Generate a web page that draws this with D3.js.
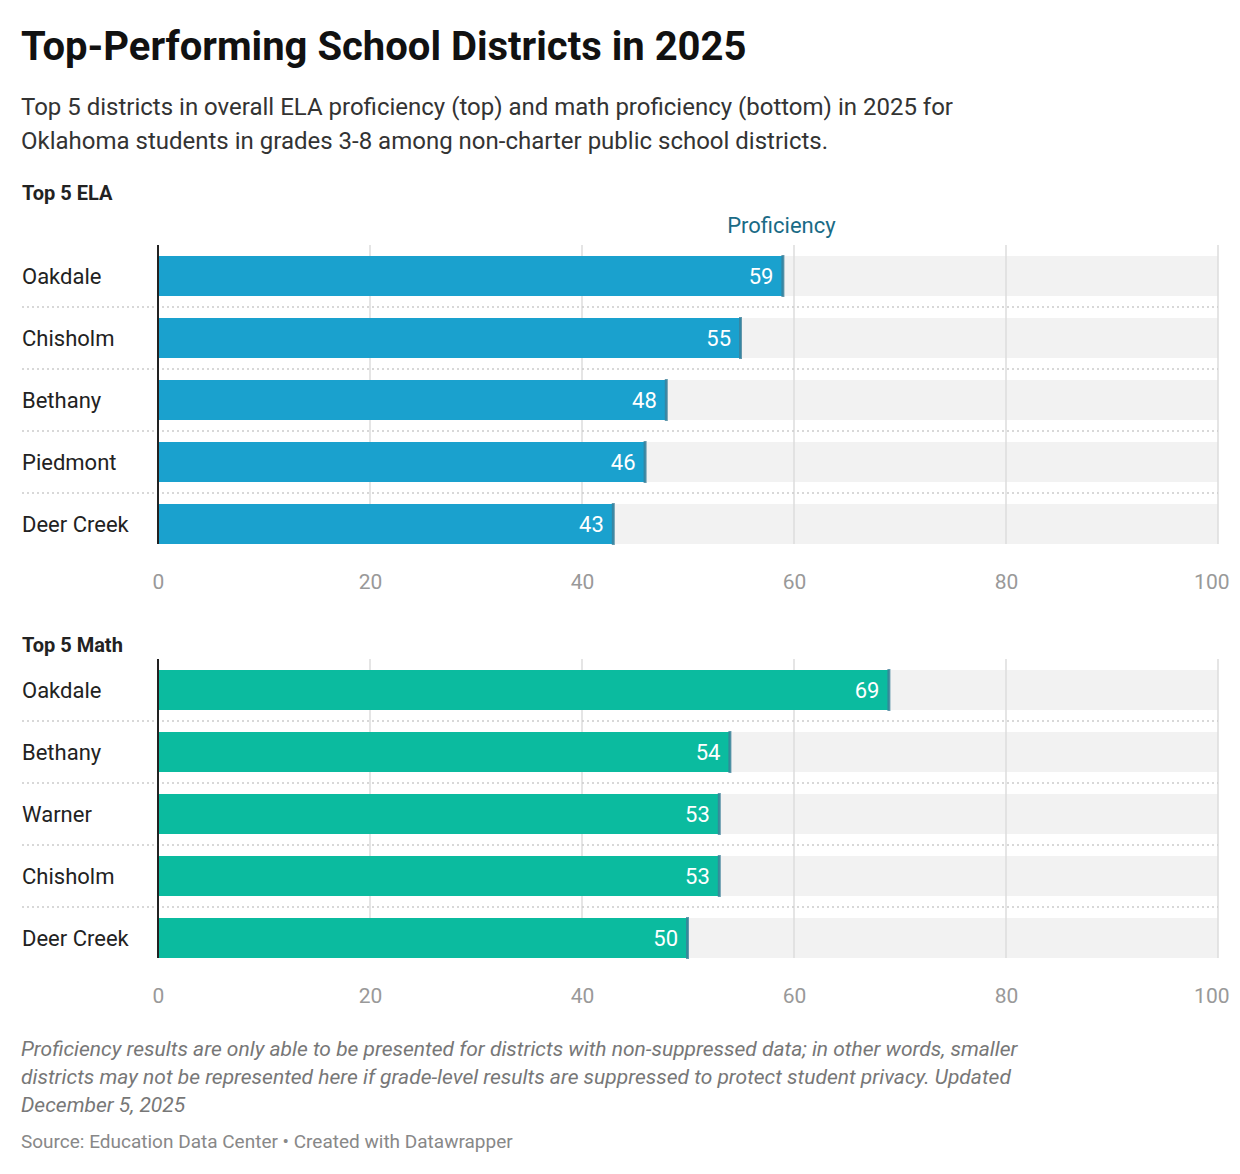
<!DOCTYPE html>
<html><head><meta charset="utf-8">
<script src="https://cdn.jsdelivr.net/npm/d3@7"></script>
<style>body{margin:0;background:#fff;font-family:Roboto,sans-serif}</style>
</head><body><svg id="c" width="1240" height="1174"></svg>
<script>
const elaDistricts = ["Oakdale","Chisholm","Bethany","Piedmont","Deer Creek"];
const elaValues = [59,55,48,46,43];
const mathDistricts = ["Oakdale","Bethany","Warner","Chisholm","Deer Creek"];
const mathValues = [69,54,53,53,50];
const ticks = [0,20,40,60,80,100];

const svg = d3.select("#c");
const x = d3.scaleLinear().domain([0,100]).range([158,1218]);

svg.append("text").attr("x",21).attr("y",60).attr("font-size",40).attr("font-weight",700).attr("fill","#111").text("Top-Performing School Districts in 2025");
["Top 5 districts in overall ELA proficiency (top) and math proficiency (bottom) in 2025 for","Oklahoma students in grades 3-8 among non-charter public school districts."]
  .forEach((t,i)=>svg.append("text").attr("x",21).attr("y",115+i*34).attr("font-size",24).attr("fill","#333").text(t));

function panel(title, titleY, top, names, vals, color, header){
  svg.append("text").attr("x",22).attr("y",titleY).attr("font-size",20).attr("font-weight",700).attr("fill","#222").text(title);
  if(header) svg.append("text").attr("x",x(59)-2).attr("y",top-12).attr("text-anchor","middle").attr("font-size",22).attr("fill","#1a6b86").text("Proficiency");
  const y = d3.scaleBand().domain(names).range([top,top+5*62]).paddingInner(22/62).paddingOuter(11/62);
  const g = svg.append("g");
  names.forEach((n,i)=>{
    g.append("rect").attr("x",x(0)).attr("y",y(n)).attr("width",x(100)-x(0)).attr("height",y.bandwidth()).attr("fill","#f2f2f2");
  });
  ticks.slice(1).forEach(t=>g.append("line").attr("x1",x(t)).attr("x2",x(t)).attr("y1",top).attr("y2",top+5*62-11).attr("stroke","#ddd").attr("stroke-width",1.5));
  names.forEach((n,i)=>{
    if(i>0) g.append("line").attr("x1",22).attr("x2",1218).attr("y1",y(n)-11).attr("y2",y(n)-11).attr("stroke","#ccc").attr("stroke-dasharray","2,3").attr("stroke-width",1.5);
    g.append("rect").attr("x",x(0)).attr("y",y(n)).attr("width",x(vals[i])-x(0)).attr("height",y.bandwidth()).attr("fill",color);
    g.append("rect").attr("x",x(vals[i])-2).attr("y",y(n)-1).attr("width",3).attr("height",y.bandwidth()+2).attr("fill","#3d7f98").attr("opacity",0.8);
    g.append("text").attr("x",x(vals[i])-10).attr("y",y(n)+y.bandwidth()/2+8).attr("text-anchor","end").attr("font-size",22).attr("fill","#fff").text(vals[i]);
    g.append("text").attr("x",22).attr("y",y(n)+y.bandwidth()/2+8).attr("font-size",22).attr("fill","#222").text(n);
  });
  g.append("line").attr("x1",x(0)).attr("x2",x(0)).attr("y1",top).attr("y2",top+5*62-11).attr("stroke","#222").attr("stroke-width",2);
  const ax = svg.append("g").attr("transform",`translate(0,${top+5*62+16})`)
    .call(d3.axisBottom(x).tickValues(ticks).tickSize(0));
  ax.select(".domain").remove();
  ax.selectAll("text").attr("font-size",21).attr("font-family","Roboto").attr("fill","#999").attr("text-anchor",(d)=>d===100?"end":"middle").attr("dx",d=>d===100?11:0);
}
panel("Top 5 ELA",200,245,elaDistricts,elaValues,"#1aa1ce",true);
panel("Top 5 Math",652,659,mathDistricts,mathValues,"#0bbb9f",false);

["Proficiency results are only able to be presented for districts with non-suppressed data; in other words, smaller","districts may not be represented here if grade-level results are suppressed to protect student privacy. Updated","December 5, 2025"]
  .forEach((t,i)=>svg.append("text").attr("x",21).attr("y",1056+i*28).attr("font-size",21).attr("font-style","italic").attr("fill","#777").text(t));
svg.append("text").attr("x",21).attr("y",1148).attr("font-size",19).attr("fill","#888").text("Source: Education Data Center • Created with Datawrapper");
</script></body></html>
